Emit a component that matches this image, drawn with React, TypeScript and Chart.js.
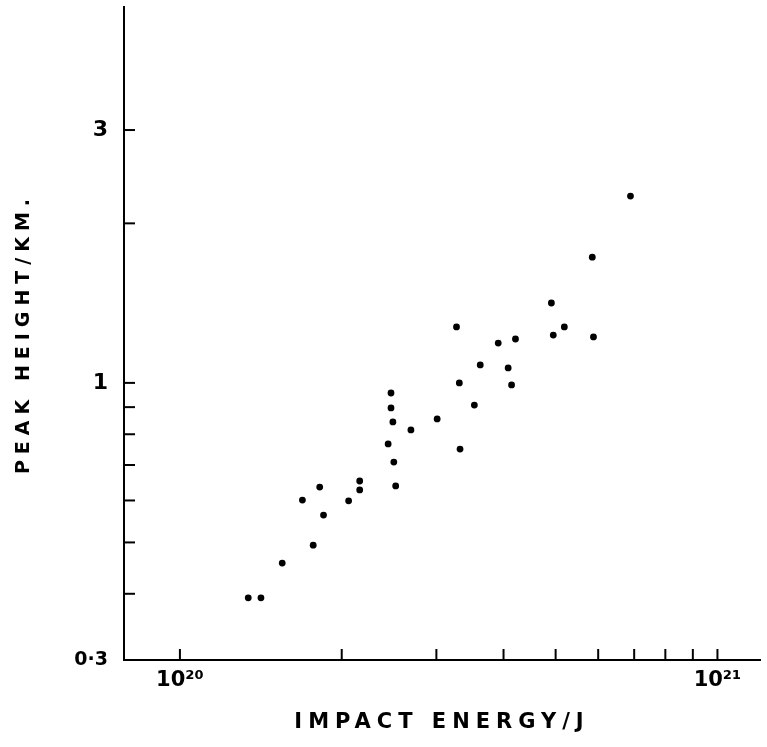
import React, { useEffect, useRef } from "react";
import { Chart, registerables } from "chart.js";

Chart.register(...registerables);

// Impact energy (J) and peak height (km)
const impactEnergy: number[] = [
  1.34e20, 1.415e20, 1.55e20, 1.77e20, 1.69e20, 1.82e20, 1.85e20, 2.06e20, 2.16e20, 2.16e20,
  2.47e20, 2.47e20, 2.49e20, 2.44e20, 2.5e20, 2.52e20, 2.69e20, 3.01e20, 3.31e20, 3.53e20,
  3.32e20, 3.62e20, 3.27e20, 3.91e20, 4.21e20, 4.08e20, 4.14e20, 4.91e20, 5.19e20, 4.95e20,
  5.85e20, 5.88e20, 6.89e20,
];
const peakHeight: number[] = [
  0.393, 0.393, 0.457, 0.494, 0.601, 0.636, 0.563, 0.599, 0.653, 0.628,
  0.957, 0.897, 0.844, 0.767, 0.709, 0.639, 0.815, 0.855, 1.0, 0.908,
  0.75, 1.081, 1.275, 1.189, 1.21, 1.067, 0.991, 1.415, 1.275, 1.231,
  1.727, 1.221, 2.252,
];

const xTickValues: number[] = [1e20, 2e20, 3e20, 4e20, 5e20, 6e20, 7e20, 8e20, 9e20, 1e21];
const xLabelledTicks: number[] = [1e20, 1e21];
const xLabelTexts: string[] = ["10²⁰", "10²¹"];
const yTickValues: number[] = [0.3, 0.4, 0.5, 0.6, 0.7, 0.8, 0.9, 1, 2, 3];
const yLabelledTicks: number[] = [0.3, 1, 3];
const yLabelTexts: string[] = ["0·3", "1", "3"];

const X_MIN = 7.87e19;
const X_MAX = 1.2e21;
const Y_MIN = 0.3;
const Y_MAX = 5.12;

const FONT = "'DejaVu Sans', sans-serif";

const near = (a: number, b: number) => Math.abs(a / b - 1) < 1e-6;
const labelFor = (v: number, vals: number[], texts: string[]) => {
  const i = vals.findIndex((t) => near(v, t));
  return i >= 0 ? texts[i] : "";
};

// letter spacing for the axis titles only (tick labels are drawn after datasets)
const letterSpacingPlugin = {
  id: "letterSpacing",
  beforeDraw(chart: any) {
    chart.ctx.letterSpacing = "6px";
  },
  beforeDatasetsDraw(chart: any) {
    chart.ctx.letterSpacing = "0px";
  },
};

const inwardTicksPlugin = {
  id: "inwardTicks",
  beforeDatasetsDraw(chart: any) {
    const { ctx, chartArea, scales } = chart;
    ctx.save();
    ctx.strokeStyle = "#000";
    ctx.lineWidth = 2;
    scales.x.ticks.forEach((t: any) => {
      const px = scales.x.getPixelForValue(t.value);
      if (px <= chartArea.left + 2) return;
      ctx.beginPath();
      ctx.moveTo(px, chartArea.bottom);
      ctx.lineTo(px, chartArea.bottom - 11);
      ctx.stroke();
    });
    scales.y.ticks.forEach((t: any) => {
      const py = scales.y.getPixelForValue(t.value);
      if (py >= chartArea.bottom - 2) return;
      ctx.beginPath();
      ctx.moveTo(chartArea.left, py);
      ctx.lineTo(chartArea.left + 11, py);
      ctx.stroke();
    });
    ctx.restore();
  },
};

export default function App() {
  const canvasRef = useRef<HTMLCanvasElement | null>(null);

  useEffect(() => {
    if (!canvasRef.current) return;
    const points = impactEnergy.map((e, i) => ({ x: e, y: peakHeight[i] }));
    const chart = new Chart(canvasRef.current, {
      type: "scatter",
      data: {
        datasets: [
          {
            data: points,
            backgroundColor: "#000",
            borderColor: "#000",
            pointRadius: 3.4,
            pointHoverRadius: 3.4,
            borderWidth: 0,
          },
        ],
      },
      options: {
        responsive: false,
        animation: false,
        layout: { padding: { left: 0, top: 7, right: 7, bottom: 0 } },
        plugins: {
          legend: { display: false },
          tooltip: { enabled: false },
        },
        scales: {
          x: {
            type: "logarithmic",
            position: "bottom",
            min: X_MIN,
            max: X_MAX,
            afterBuildTicks: (scale: any) => {
              scale.ticks = xTickValues.map((v) => ({ value: v }));
            },
            afterFit: (scale: any) => {
              scale.height = 87;
              scale.paddingLeft = 0;
              scale.paddingRight = 0;
            },
            grid: { display: true, drawOnChartArea: false, drawTicks: false },
            border: { display: true, color: "#000", width: 2 },
            ticks: {
              z: 1,
              autoSkip: false,
              maxRotation: 0,
              padding: 8,
              color: "#000",
              font: { family: FONT, size: 21, weight: "bold" },
              callback: (v: any) => labelFor(Number(v), xLabelledTicks, xLabelTexts),
            },
            title: {
              display: true,
              text: "IMPACT ENERGY/J",
              color: "#000",
              font: { family: FONT, size: 21, weight: "bold" },
              padding: { top: 0, bottom: 12 },
            },
          },
          y: {
            type: "logarithmic",
            position: "left",
            min: Y_MIN,
            max: Y_MAX,
            afterBuildTicks: (scale: any) => {
              scale.ticks = yTickValues.map((v) => ({ value: v }));
            },
            afterFit: (scale: any) => {
              scale.width = 124;
              scale.paddingTop = 0;
              scale.paddingBottom = 0;
            },
            grid: { display: true, drawOnChartArea: false, drawTicks: false },
            border: { display: true, color: "#000", width: 2 },
            ticks: {
              z: 1,
              autoSkip: false,
              padding: 16,
              color: "#000",
              font: (ctx: any) =>
                ctx.tick && near(ctx.tick.value, 0.3)
                  ? { family: FONT, size: 19, weight: "bold" }
                  : { family: FONT, size: 22, weight: "bold" },
              callback: (v: any) => labelFor(Number(v), yLabelledTicks, yLabelTexts),
            },
            title: {
              display: true,
              text: "PEAK HEIGHT/KM.",
              color: "#000",
              font: { family: FONT, size: 19, weight: "bold" },
              padding: { top: 13, bottom: 0 },
            },
          },
        },
      },
      plugins: [letterSpacingPlugin, inwardTicksPlugin],
    } as any);
    return () => chart.destroy();
  }, []);

  return (
    <div style={{ position: "absolute", left: 0, top: 0, width: 767, height: 747, background: "#fff" }}>
      <canvas ref={canvasRef} width={767} height={747} style={{ display: "block" }} />
    </div>
  );
}
